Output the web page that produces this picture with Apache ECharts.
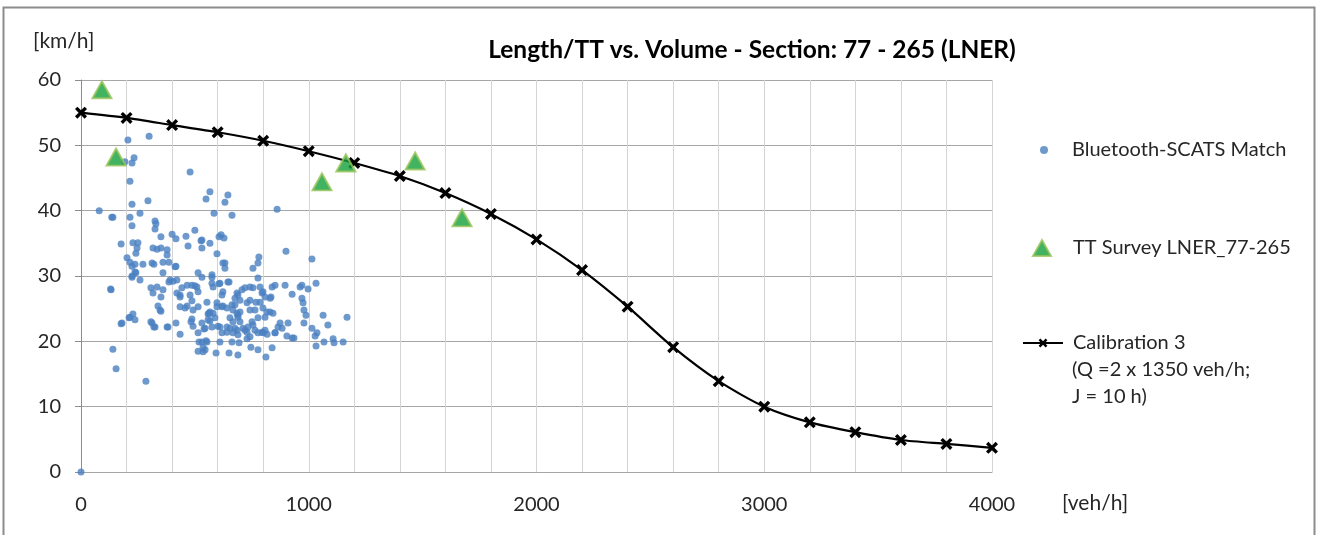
<!DOCTYPE html>
<html>
<head>
<meta charset="utf-8">
<script src="https://cdn.jsdelivr.net/npm/echarts@6/dist/echarts.min.js"></script>
<style>
  html, body { margin: 0; padding: 0; background: #fff; }
  #chart { width: 1320px; height: 535px; }
</style>
</head>
<body>
<div id="chart"></div>
<script>
// Speed vs. volume, section 77 - 265 (LNER)
const chartTitle = 'Length/TT vs. Volume - Section: 77 - 265 (LNER)';
const yUnit = '[km/h]';
const xUnit = '[veh/h]';

const nameBluetooth = 'Bluetooth-SCATS Match';
const nameSurvey = 'TT Survey LNER_77-265';
const nameCalib = 'Calibration 3';
const calibNote = ['(Q =2 x 1350 veh/h;', 'J = 10 h)'];

// Calibration 3 curve: volume [veh/h] and speed [km/h]
const calibVolume = [0, 200, 400, 600, 800, 1000, 1200, 1400, 1600, 1800, 2000,
  2200, 2400, 2600, 2800, 3000, 3200, 3400, 3600, 3800, 4000];
const calibSpeed = [55.0, 54.2, 53.1, 52.0, 50.7, 49.1, 47.3, 45.3, 42.7, 39.5, 35.6,
  30.9, 25.3, 19.1, 13.9, 10.0, 7.6, 6.1, 4.9, 4.3, 3.7];

// Travel-time survey observations
const surveyVolume = [92, 154, 1058, 1163, 1467, 1673];
const surveySpeed = [58.5, 48.2, 44.4, 47.3, 47.6, 38.9];

// Bluetooth-SCATS matched observations [volume, speed]
const bluetoothPoints = [
  [0,0],
  [80,40],[135,39],[130,28],[140,18.8],[154,15.8],[285,13.9],
  [206,50.8],[299,51.4],[193,47.5],[224,47.3],[233,48.1],[479,45.9],
  [215,44.5],[566,42.9],[549,41.8],[224,41.0],[294,41.5],
  [140,39.0],[215,39.0],[259,39.6],[584,39.6],[325,38.4],[329,38.0],[224,37.7],[325,37.2],
  [351,36.0],[400,36.4],[417,35.7],[461,36.1],[500,37.0],[527,35.4],[531,35.5],[470,34.6],[531,34.3],[566,35.0],[597,33.4],[606,36.0],[628,35.8],
  [176,34.9],[228,35.1],[250,35.1],[241,33.5],[246,34.3],[316,34.3],[334,34.1],[351,34.3],[378,34.0],[378,33.2],
  [202,32.8],[215,32.1],[224,31.5],[237,31.8],[272,31.8],[312,32.0],[320,31.8],[360,32.1],[386,32.1],[417,31.5],[413,31.4],[360,30.5],
  [645,42.4],[632,41.3],[663,39.3],[861,40.2],[615,36.3],
  [781,32.9],[777,32.0],[755,31.2],[900,33.8],[1014,32.6],[632,32.0],[632,31.2],[623,32.0],
  [224,30.0],[241,30.5],[259,29.4],[237,30.6],[224,29.8],
  [132,27.9],[176,22.7],[180,22.8],[211,23.6],[228,24.2],[237,23.3],[215,23.7],
  [307,28.2],[316,27.4],[334,28.3],[360,27.9],[351,26.8],[338,25.4],[351,24.6],[347,24.8],[307,23.0],[325,22.2],[312,22.8],[320,22.2],[378,22.2],[382,22.2],[417,22.8],[435,21.1],
  [386,29.1],[404,29.2],[421,29.4],[391,29.4],[443,28.2],[421,27.4],[435,27.1],[435,26.8],[466,28.6],[487,28.6],[500,28.5],[509,28.3],[514,27.6],[479,27.1],[487,26.2],
  [435,25.3],[457,25.1],[466,25.4],[492,24.8],[514,25.3],[487,23.4],[483,23.0],[492,22.3],[514,21.3],[540,21.9],[558,24.2],[580,24.3],[566,23.1],[575,22.2],[597,25.3],[601,22.3],
  [514,30.5],[531,29.8],[575,29.8],[575,28.9],[580,28.3],[610,28.9],[645,29.1],[575,30.2],
  [518,19.9],[549,20.1],[536,19.1],[514,18.5],[545,18.7],[593,18.2],[536,18.4],
  [606,28.8],[650,29.1],[777,29.7],[839,28.3],[852,28.6],[896,28.6],[962,28.3],[970,28.6],[997,28.0],[1032,28.9],[927,27.2],[970,26.6],[834,26.8],
  [979,24.8],[988,24.0],[979,22.8],[1014,22.0],[1036,21.3],[1028,20.8],[1063,24.0],[1084,22.5],[1168,23.7],[1067,19.9],[1107,20.4],[1111,19.8],[1151,19.9],[1032,19.3],[975,25.9],
  [904,20.8],[927,20.5],[935,20.5],[883,22.0],[874,22.8],[909,22.8],[852,21.3],[865,22.2],[839,19.0],[812,17.6],[777,18.7],[746,19.1],[689,17.9],[650,18.2],[553,19.9],[610,19.9],[663,19.9],[694,19.8],[729,20.4],
  [619,27.1],[623,27.6],[685,27.4],[707,27.9],[720,28.2],[742,28.3],[755,28.2],[786,28.3],[795,27.4],[799,27.6],[808,26.8],[830,26.6],[786,26.0],[768,26.0],[742,26.3],[729,25.9],[698,26.3],[676,26.6],[689,27.1],[663,25.6],[641,25.1],[619,25.3],[597,25.9],[623,25.4],[676,25.6],[562,24.3],[566,24.5],
  [667,24.8],[685,24.3],[698,24.5],[742,24.8],[764,24.8],[799,25.1],[817,24.5],[830,24.5],[843,24.3],[808,23.7],[777,23.6],[751,23.0],[755,22.5],[733,22.2],[711,22.0],[685,21.7],[654,22.0],[641,21.4],[610,22.2],[545,22.0],[619,21.3],[667,21.3],[729,21.4],[764,21.7],[777,21.3],[795,21.4],[808,21.7],[817,21.1],[742,20.7],[689,21.0],[558,23.3],[588,23.6],[654,23.6],[667,23.0],[698,23.0],[689,23.7],[689,24.0],[553,26.0],[531,22.8],[531,19.9],[676,22.0],[720,21.7],[641,22.2],[799,21.3],[852,21.3]
];

// Axis ranges and tick steps
const xMin = 0, xMax = 4000, xStep = 1000;
const yMin = 0, yMax = 60, yStep = 10;

const FONT = 'Lato, "Open Sans", sans-serif';
const TEXT = '#262626';
const FS = 20;
const crossPath = 'path://M0,2 L2,0 L5,3 L8,0 L10,2 L7,5 L10,8 L8,10 L5,7 L2,10 L0,8 L3,5 Z';

const legendText = (padLeft) => ({
  fontSize: FS, color: TEXT, fontFamily: FONT, padding: [0, 0, 0, padLeft]
});

const chart = echarts.init(document.getElementById('chart'), null, { renderer: 'canvas' });

chart.setOption({
  backgroundColor: '#ffffff',
  animation: false,
  textStyle: { fontFamily: FONT, color: TEXT },
  title: {
    text: chartTitle,
    left: 752, top: 38, padding: 0,
    textAlign: 'center',
    textStyle: { fontFamily: FONT, fontWeight: 'bold', fontSize: 24.5, color: '#000' }
  },
  grid: { left: 81, right: 328, top: 80, bottom: 63, containLabel: false },
  xAxis: {
    type: 'value', min: xMin, max: xMax, interval: xStep,
    axisLine: { show: true, lineStyle: { color: '#a6a6a6', width: 1 } },
    axisTick: { show: false },
    axisLabel: { margin: 23, fontSize: FS, color: TEXT, fontFamily: FONT,
      formatter: (v) => String(v) },
    splitLine: { show: true, lineStyle: { color: '#d4d4d4', width: 1 } },
    minorTick: { show: false, splitNumber: 5 },
    minorSplitLine: { show: true, lineStyle: { color: '#d4d4d4', width: 1 } }
  },
  yAxis: {
    type: 'value', min: yMin, max: yMax, interval: yStep,
    axisLine: { show: true, lineStyle: { color: '#8c8c8c', width: 1 } },
    axisTick: { show: true, length: 6, inside: false, lineStyle: { color: '#8c8c8c' } },
    axisLabel: { margin: 20, fontSize: FS, color: TEXT, fontFamily: FONT },
    splitLine: { show: true, lineStyle: { color: '#a6a6a6', width: 1 } }
  },
  legend: [
    {
      data: [nameBluetooth], left: 1040, top: 140, padding: 0,
      itemWidth: 8, itemHeight: 8, textStyle: legendText(19)
    },
    {
      data: [nameSurvey], left: 1032, top: 238, padding: 0,
      itemWidth: 18, itemHeight: 16, textStyle: legendText(17)
    },
    {
      data: [nameCalib], left: 1022, top: 333, padding: 0,
      itemWidth: 40, itemHeight: 11, textStyle: legendText(5)
    }
  ],
  graphic: [
    // chart area frame
    { type: 'rect', shape: { x: 3.5, y: 7.5, width: 1311, height: 540 },
      style: { fill: null, stroke: '#8c8c8c', lineWidth: 2 }, silent: true, z: -1 },
    { type: 'text', left: 33, top: 31,
      style: { text: yUnit, fontSize: 21, fill: TEXT, fontFamily: FONT } },
    { type: 'text', left: 1062, top: 493,
      style: { text: xUnit, fontSize: 21, fill: TEXT, fontFamily: FONT } },
    { type: 'text', left: 1072, top: 356,
      style: { text: calibNote.join('\n'), fontSize: FS, lineHeight: 27, fill: TEXT, fontFamily: FONT } }
  ],
  series: [
    {
      name: nameBluetooth, type: 'scatter', data: bluetoothPoints,
      symbol: 'circle', symbolSize: 7,
      itemStyle: { color: '#4a7fc1' }, z: 2
    },
    {
      name: nameCalib, type: 'line',
      data: calibVolume.map((v, i) => [v, calibSpeed[i]]),
      smooth: 0.25,
      symbol: crossPath, symbolSize: 12,
      lineStyle: { color: '#000', width: 2.2 },
      itemStyle: { color: '#000' }, z: 3
    },
    {
      name: nameSurvey, type: 'scatter',
      data: surveyVolume.map((v, i) => [v, surveySpeed[i]]),
      symbol: 'triangle', symbolSize: [19, 17],
      itemStyle: { color: '#12a03a', borderColor: '#9bc45a', borderWidth: 2 }, z: 4
    }
  ]
});
</script>
</body>
</html>
